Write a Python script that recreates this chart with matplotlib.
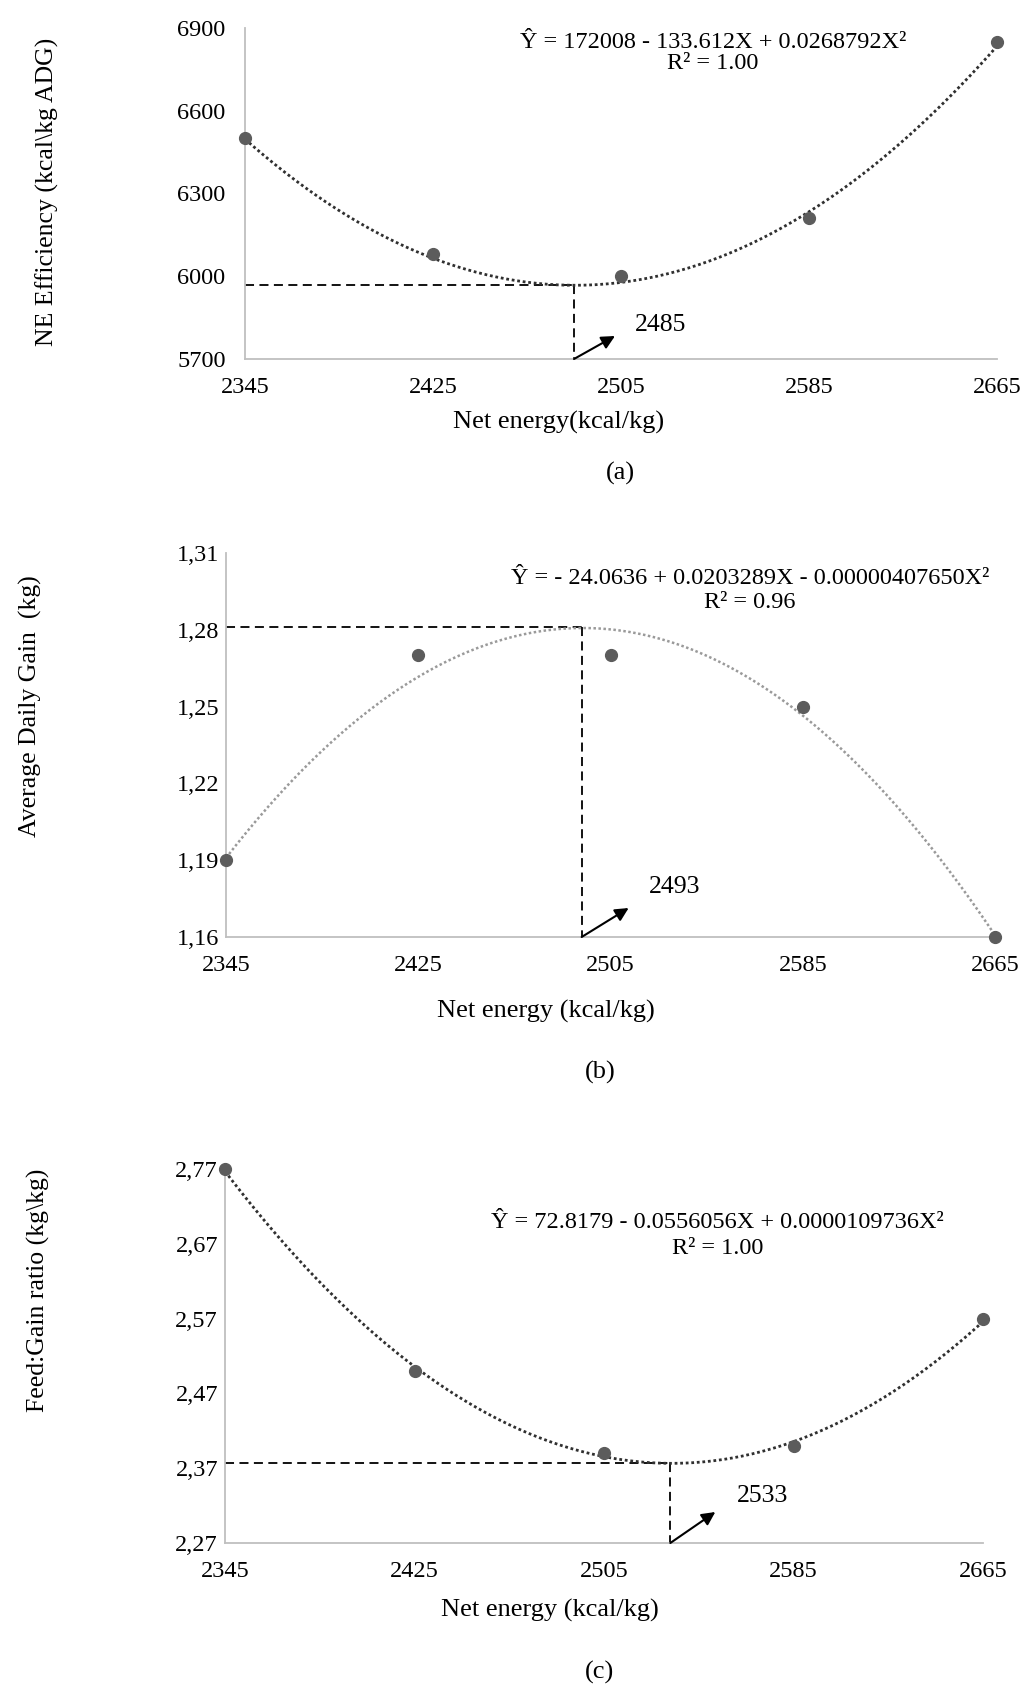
import numpy as np
import matplotlib
matplotlib.use("Agg")
import matplotlib.pyplot as plt
from matplotlib.transforms import offset_copy

plt.rcParams["font.family"] = ["Liberation Serif", "DejaVu Serif"]

W, H = 1026, 1686

# net energy levels (kcal/kg)
net_energy = [2345, 2425, 2505, 2585, 2665]

# panel (a) NE efficiency
ne_eff = [6500, 6080, 6000, 6210, 6850]
ne_coef = [0.0268792, -133.612, 172008]          # X^2, X, const
ne_opt_x, ne_opt_y = 2485, 5967
ne_yticks = [5700, 6000, 6300, 6600, 6900]
ne_ylabels = ["5700", "6000", "6300", "6600", "6900"]

# panel (b) average daily gain
adg = [1.19, 1.27, 1.27, 1.25, 1.16]
adg_coef = [-0.0000040765, 0.0203289, -24.0636]
adg_opt_x, adg_opt_y = 2493, 1.281
adg_yticks = [1.16, 1.19, 1.22, 1.25, 1.28, 1.31]
adg_ylabels = ["1,16", "1,19", "1,22", "1,25", "1,28", "1,31"]

# panel (c) feed:gain
fg = [2.77, 2.50, 2.39, 2.40, 2.57]
fg_coef = [0.0000109736, -0.0556056, 72.8179]
fg_opt_x, fg_opt_y = 2533, 2.377
fg_yticks = [2.27, 2.37, 2.47, 2.57, 2.67, 2.77]
fg_ylabels = ["2,27", "2,37", "2,47", "2,57", "2,67", "2,77"]

fig = plt.figure(figsize=(W / 100, H / 100), dpi=100)


def make_ax(x0, x1, ytop, ybot):
    return fig.add_axes([x0 / W, 1 - ybot / H, (x1 - x0) / W, (ybot - ytop) / H])


def panel(ax, y, coef, opt_x, opt_y, yticks, ylabels, eq, r2, eq_y, r2_y,
          eq_x, curve_color, curve_lw, ypad, arrow_dx, arrow_dy, lab_dx, lab_dy):
    ylo, yhi = yticks[0], yticks[-1]
    xs = np.linspace(net_energy[0], net_energy[-1], 300)
    ax.plot(xs, np.polyval(coef, xs), color=curve_color, lw=curve_lw,
            linestyle=(0, (1, 1.0)), clip_on=False, zorder=2)
    ax.plot(net_energy, y, "o", color="#5c5c5c", ms=8.5, clip_on=False, zorder=3)
    # optimum guide lines
    ax.plot([net_energy[0], opt_x], [opt_y, opt_y], color="black", lw=1.3,
            linestyle=(0, (5, 3)), zorder=1)
    ax.plot([opt_x, opt_x], [opt_y, ylo], color="black", lw=1.3,
            linestyle=(0, (5, 3)), zorder=1)
    tip = offset_copy(ax.transData, fig=fig, x=arrow_dx, y=arrow_dy, units="dots")
    ax.annotate("", xy=(opt_x, ylo), xycoords=tip, xytext=(opt_x, ylo),
                textcoords="data",
                arrowprops=dict(arrowstyle="-|>", color="black", lw=1.5,
                                mutation_scale=20, shrinkA=0, shrinkB=0))
    lab = offset_copy(ax.transData, fig=fig, x=lab_dx, y=lab_dy, units="dots")
    ax.text(opt_x, ylo, str(opt_x), transform=lab, fontsize=18.5,
            ha="left", va="center")

    ax.text(eq_x, eq_y, eq, fontsize=17.5, ha="center", va="center")
    ax.text(eq_x, r2_y, r2, fontsize=17.5, ha="center", va="center")

    ax.set_xlim(net_energy[0], net_energy[-1])
    ax.set_ylim(ylo, yhi)
    ax.set_xticks(net_energy)
    ax.set_xticklabels([str(v) for v in net_energy])
    ax.set_yticks(yticks)
    ax.set_yticklabels(ylabels)
    ax.tick_params(length=0, labelsize=17.5)
    ax.tick_params(axis="x", pad=13)
    ax.tick_params(axis="y", pad=ypad)
    for s in ["top", "right"]:
        ax.spines[s].set_visible(False)
    for s in ["left", "bottom"]:
        ax.spines[s].set_color("#bfbfbf")
        ax.spines[s].set_linewidth(1.3)
    ax.patch.set_alpha(0)


ax1 = make_ax(245, 997, 28, 359)
panel(ax1, ne_eff, ne_coef, ne_opt_x, ne_opt_y, ne_yticks, ne_ylabels,
      "Ŷ = 172008 - 133.612X + 0.0268792X²", "R² = 1.00",
      6846, 6770, 2544, "#303030", 2.0, 14, 41, 23, 61, 34)

ax2 = make_ax(226, 995, 553, 937)
panel(ax2, adg, adg_coef, adg_opt_x, adg_opt_y, adg_yticks, adg_ylabels,
      "Ŷ = - 24.0636 + 0.0203289X - 0.00000407650X²", "R² = 0.96",
      1.300, 1.2905, 2563, "#9a9a9a", 1.8, 5, 47, 29, 67, 50)

ax3 = make_ax(225, 983, 1169, 1543)
panel(ax3, fg, fg_coef, fg_opt_x, fg_opt_y, fg_yticks, fg_ylabels,
      "Ŷ = 72.8179 - 0.0556056X + 0.0000109736X²", "R² = 1.00",
      2.698, 2.664, 2553, "#303030", 2.0, 5, 45, 31, 67, 47)

# axis titles and captions placed in figure pixels
fig.text(47 / W, 1 - 192 / H, "NE Efficiency (kcal\\kg ADG)", rotation=90,
         fontsize=18.5, ha="center", va="center")
fig.text(30 / W, 1 - 706 / H, "Average Daily Gain  (kg)", rotation=90,
         fontsize=18.5, ha="center", va="center")
fig.text(38 / W, 1 - 1290 / H, "Feed:Gain ratio (kg\\kg)", rotation=90,
         fontsize=18.5, ha="center", va="center")

fig.text(559 / W, 1 - 422 / H, "Net energy(kcal/kg)", fontsize=19,
         ha="center", va="center")
fig.text(546 / W, 1 - 1011 / H, "Net energy (kcal/kg)", fontsize=19,
         ha="center", va="center")
fig.text(550 / W, 1 - 1610 / H, "Net energy (kcal/kg)", fontsize=19,
         ha="center", va="center")

fig.text(620 / W, 1 - 473 / H, "(a)", fontsize=19, ha="center", va="center")
fig.text(600 / W, 1 - 1072 / H, "(b)", fontsize=19, ha="center", va="center")
fig.text(599 / W, 1 - 1672 / H, "(c)", fontsize=19, ha="center", va="center")

fig.savefig("out.png", dpi=100, facecolor="white")
